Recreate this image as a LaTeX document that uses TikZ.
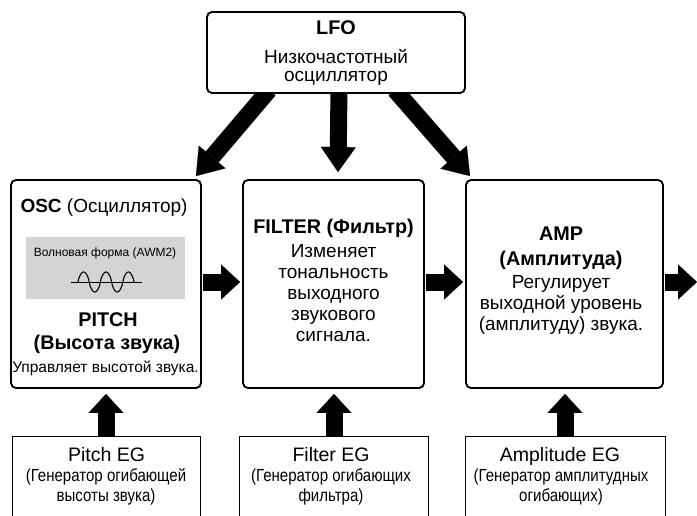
\documentclass[tikz,border=0pt]{standalone}
\usepackage{fontspec}
\setmainfont{Liberation Sans}
\newfontfamily\condfont[FakeStretch=0.86]{Liberation Sans}
\usetikzlibrary{arrows.meta,calc}
\pgfdeclarelayer{bg}
\pgfsetlayers{bg,main}
\begin{document}
\begin{tikzpicture}[x=1pt,y=-1pt,
  mainbox/.style={draw, line width=1.9pt, rounded corners=5pt, fill=white, inner sep=0pt},
  egbox/.style={draw, line width=0.9pt, fill=white, inner sep=0pt, anchor=north, minimum height=100pt},
  fat/.style={line width=17pt, -{Triangle[width=35pt,length=19pt,line width=0.1pt]}},
  fatl/.style={line width=17pt, -{Triangle[width=35pt,length=25pt,line width=0.1pt]}},
  txt/.style={anchor=base, inner sep=0pt, font=\fontsize{19}{21}\selectfont, align=center},
  btxt/.style={txt, font=\fontsize{19.8}{21}\selectfont\bfseries},
  small/.style={anchor=base, inner sep=0pt, font=\fontsize{12}{14}\selectfont},
  egtitle/.style={anchor=base, inner sep=0pt, font=\fontsize{19.5}{20}\selectfont},
  ctxt/.style={anchor=base, inner sep=0pt, align=center, font=\fontsize{17.5}{20}\selectfont\condfont},
]
\useasboundingbox (0,0) rectangle (697,515);
% main boxes
\node[mainbox, minimum width=258pt, minimum height=81pt] (lfo) at (336,52.5) {};
\node[mainbox, minimum width=190pt, minimum height=208pt] (osc) at (106,284) {};
\node[mainbox, minimum width=181pt, minimum height=208pt] (filter) at (333.5,284) {};
\node[mainbox, minimum width=197pt, minimum height=208pt] (amp) at (564.5,284) {};
% EG boxes (open at the bottom of the picture)
\node[egbox, minimum width=188pt] (pitchbox) at (106,436) {};
\node[egbox, minimum width=189pt] (filterbox) at (333.5,436) {};
\node[egbox, minimum width=200pt] (ampbox) at (565,436) {};
% grey waveform panel
\node[fill=black!17, inner sep=0pt, minimum width=159pt, minimum height=62pt, anchor=north west] (wavepanel) at (26,237) {};
\coordinate (out) at (697,282);
% arrows
\begin{pgfonlayer}{bg}
\draw[fatl] ($(lfo.south west)+(63,-4)$) -- ($(osc.north east)+(-6,-3)$);
\draw[fatl] ($(lfo.south)+(3,-4)$) -- ($(filter.north)+(4.5,-7)$);
\draw[fatl] ($(lfo.south east)+(-71,-4)$) -- ($(amp.north west)+(5,-3)$);
\end{pgfonlayer}
\draw[fat] ($(osc.east)+(1,-2)$) -- ($(filter.west)+(-2,-2)$);
\draw[fat] ($(filter.east)+(1,-2)$) -- ($(amp.west)+(-2,-2)$);
\draw[fat] ($(amp.east)+(1,-2)$) -- (out);
\draw[fat] ($(pitchbox.north)+(0,-0.5)$) -- ($(osc.south)+(0,5)$);
\draw[fat] ($(filterbox.north)+(0.5,-0.5)$) -- ($(filter.south)+(0.5,5)$);
\draw[fat] ($(ampbox.north)+(0,-0.5)$) -- ($(amp.south)+(0.5,5)$);
% LFO text (multi-line nodes are placed by the baseline of their last line)
\node[btxt] (lfot) at (336,34) {LFO};
\node[txt, font=\fontsize{19}{18.5}\selectfont] (lfod) at (336,81.5) {Низкочастотный\\осциллятор};
% OSC text
\node[txt] (osct) at (104,212) {\textbf{OSC} (Осциллятор)};
\node[small] (wavet) at (105,256) {Волновая форма (AWM2)};
\draw[line width=1pt] (71,282) -- (142,282);
\draw[line width=1.1pt] plot[domain=78:134, samples=81, smooth]
  (\x, {282-10*sign(sin(16.07*(\x-78)))*abs(sin(16.07*(\x-78)))^0.7});
\node[btxt] (pitcht) at (108,326) {PITCH};
\node[btxt] (pitchs) at (107,349) {(Высота звука)};
\node[anchor=base, inner sep=0pt, font=\fontsize{15.5}{18}\selectfont] (pitchd) at (105.5,372) {Управляет высотой звука.};
% FILTER text
\node[btxt] (filtert) at (333.5,233) {FILTER (Фильтр)};
\node[txt] (filterd) at (333.5,341.5) {Изменяет\\тональность\\выходного\\звукового\\сигнала.};
% AMP text
\node[btxt] (ampt) at (561,240) {AMP};
\node[btxt] (amps) at (561,265) {(Амплитуда)};
\node[txt] (ampd) at (561,330) {Регулирует\\выходной уровень\\(амплитуду) звука.};
% EG texts
\node[egtitle] (pitchegt) at (106.5,461) {Pitch EG};
\node[ctxt] (pitchegd) at (106,501.5) {(Генератор огибающей\\высоты звука)};
\node[egtitle] (filteregt) at (331,461) {Filter EG};
\node[ctxt] (filteregd) at (331,501.5) {(Генератор огибающих\\фильтра)};
\node[egtitle] (ampegt) at (560,461) {Amplitude EG};
\node[ctxt] (ampegd) at (561,501.5) {(Генератор амплитудных\\огибающих)};
\end{tikzpicture}
\end{document}
